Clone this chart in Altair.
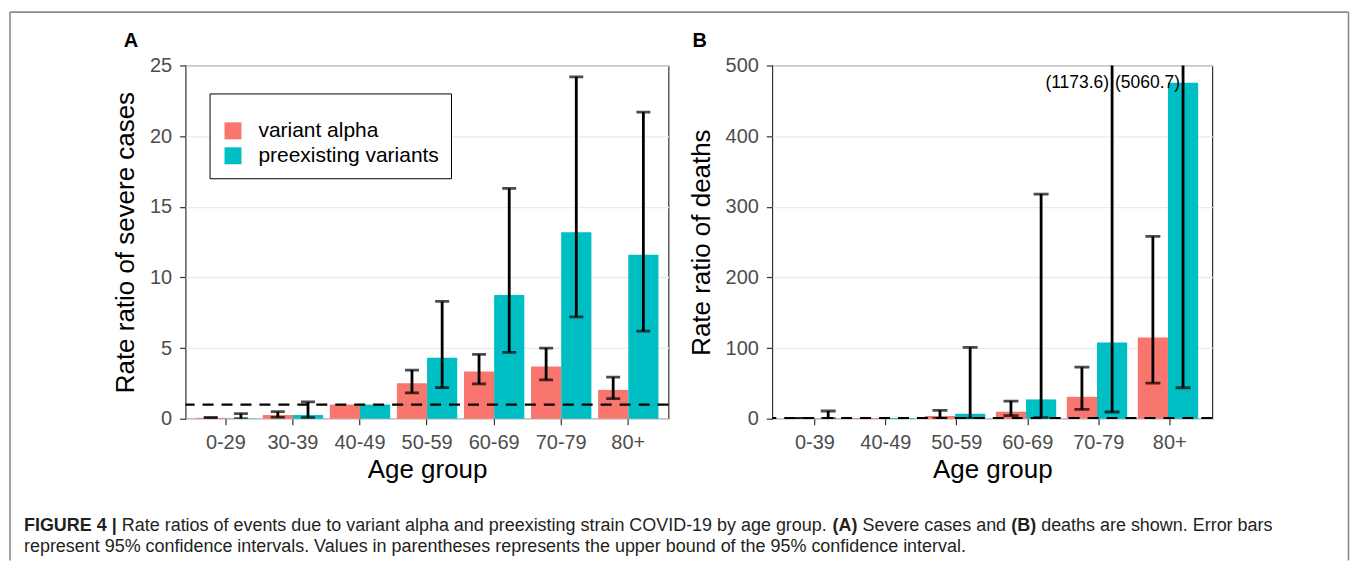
import altair as alt
import pandas as pd

variants = ["variant alpha", "preexisting variants"]
colors = ["#F8766D", "#00BFC4"]

# Panel A: severe cases
ages_a = ["0-29", "30-39", "40-49", "50-59", "60-69", "70-79", "80+"]
alpha_a = [0.06, 0.26, 1.0, 2.51, 3.34, 3.69, 2.04]
alpha_a_lo = [0.03, 0.10, None, 1.83, 2.46, 2.75, 1.42]
alpha_a_hi = [0.09, 0.50, None, 3.44, 4.55, 5.00, 2.94]
pre_a = [0.02, 0.26, 1.0, 4.31, 8.75, 13.2, 11.6]
pre_a_lo = [0.0, 0.08, None, 2.20, 4.69, 7.20, 6.20]
pre_a_hi = [0.36, 1.19, None, 8.30, 16.3, 24.2, 21.7]
ticks_a = [0, 5, 10, 15, 20, 25]

# Panel B: deaths
ages_b = ["0-39", "40-49", "50-59", "60-69", "70-79", "80+"]
alpha_b = [0.2, 1.0, 3.8, 9.9, 31.0, 115.0]
alpha_b_lo = [0.05, None, 0.5, 4.3, 13.2, 50.4]
alpha_b_hi = [0.5, None, 11.8, 25.0, 73.0, 258.0]
pre_b = [0.3, 1.0, 7.0, 27.3, 108.0, 475.6]
pre_b_lo = [0.0, None, 0.3, 1.4, 9.5, 43.8]
pre_b_hi = [10.9, None, 101.0, 318.0, 1173.6, 5060.7]
ticks_b = [0, 100, 200, 300, 400, 500]

caption_line1 = [
    ("FIGURE 4 |", True),
    ("Rate ratios of events due to variant alpha and preexisting strain COVID-19 by age group.", False),
    ("(A)", True),
    ("Severe cases and", False),
    ("(B)", True),
    ("deaths are shown. Error bars", False),
]
caption_line2 = [
    ("represent 95% confidence intervals. Values in parentheses represents the upper bound of the 95% confidence interval.", False),
]

FONT = "Liberation Sans"
CAP_SIZE = 18
CAP_X = 22
OX, OY = 184, 64  # origin of panel A plot area on the page

# Arial/Liberation Sans advance widths (per 1000 em), used to chain caption segments
_REG = {" ": 278, "%": 889, "(": 333, ")": 333, "-": 333, ".": 278, "|": 260}
_REG.update({d: 556 for d in "0123456789"})
_REG.update(dict(zip("ABCDEFGHIJKLMNOPQRSTUVWXYZ",
                     [667, 667, 722, 722, 667, 611, 778, 722, 278, 500, 667, 556, 833, 722, 778, 667,
                      778, 722, 667, 611, 722, 667, 944, 667, 667, 611])))
_REG.update(dict(zip("abcdefghijklmnopqrstuvwxyz",
                     [556, 556, 500, 556, 556, 278, 556, 556, 222, 222, 500, 222, 833, 556, 556, 556,
                      556, 333, 500, 278, 556, 500, 722, 500, 500, 500])))
_BOLD = {" ": 278, "(": 333, ")": 333, "|": 280, "4": 556, "A": 722, "B": 722, "E": 667, "F": 611,
         "G": 778, "I": 278, "R": 722, "U": 722}


def text_width(s, bold):
    tab = _BOLD if bold else _REG
    return sum(tab.get(c, 556) for c in s) / 1000.0 * CAP_SIZE


def make_df(ages, a, alo, ahi, p, plo, phi):
    rows = []
    for i, g in enumerate(ages):
        rows.append(dict(age=g, variant=variants[0], value=a[i], lo=alo[i], hi=ahi[i]))
        rows.append(dict(age=g, variant=variants[1], value=p[i], lo=plo[i], hi=phi[i]))
    return pd.DataFrame(rows)


one = pd.DataFrame({"k": [0]})


def panel(df, ages, ymax, yticks, ytitle, width, legend_x, lab_size, sym, cap, tag, tag_x, annotate):
    yscale = alt.Scale(domain=[0, ymax], nice=False, zero=True)
    yaxis = alt.Axis(title=ytitle, values=yticks)
    x = alt.X("age:N", sort=ages,
              scale=alt.Scale(domain=ages, paddingInner=0.1, paddingOuter=0.15),
              axis=alt.Axis(title="Age group", labelAngle=0))
    xo = alt.XOffset("variant:N", sort=variants,
                     scale=alt.Scale(domain=variants, paddingInner=0, paddingOuter=0))
    bars = alt.Chart(df).mark_bar().encode(
        x=x, xOffset=xo,
        y=alt.Y("value:Q", scale=yscale, axis=yaxis),
        color=alt.Color("variant:N",
                        scale=alt.Scale(domain=variants, range=colors),
                        legend=alt.Legend(title=" ", orient="none", legendX=legend_x, legendY=28,
                                          strokeColor="black", fillColor="white", padding=12,
                                          titleFontSize=10, titlePadding=5,
                                          symbolType="square", symbolSize=sym * sym,
                                          symbolStrokeWidth=0, symbolOffset=1,
                                          labelFontSize=lab_size, labelColor="black",
                                          labelFont=FONT, labelOffset=15, rowPadding=3,
                                          labelLimit=500)),
    )
    hline = alt.Chart(one).mark_rule(color="black", strokeWidth=2.2, strokeDash=[11, 8]).encode(
        y=alt.YDatum(1, scale=yscale, axis=yaxis)
    )
    err = alt.Chart(df).transform_filter("isValid(datum.lo)")
    rules = err.mark_rule(color="black", strokeWidth=2.8, clip=True).encode(
        x=x, xOffset=xo, y=alt.Y("lo:Q", scale=yscale, axis=yaxis), y2="hi:Q")
    cap_hi = err.mark_tick(color="black", thickness=2.8, size=cap, clip=True).encode(
        x=x, xOffset=xo, y=alt.Y("hi:Q", scale=yscale, axis=yaxis))
    cap_lo = err.mark_tick(color="black", thickness=2.8, size=cap, clip=True).encode(
        x=x, xOffset=xo, y=alt.Y("lo:Q", scale=yscale, axis=yaxis))
    tagm = alt.Chart(one).mark_text(text=tag, align="left", baseline="alphabetic", fontSize=20,
                                    fontWeight="bold", font=FONT, color="black").encode(
        x=alt.value(tag_x), y=alt.value(-19))
    layers = [bars, hline, rules, cap_hi, cap_lo, tagm]
    if annotate:
        txt = alt.Chart(df).transform_filter(f"datum.hi > {ymax}").transform_calculate(
            lab="'(' + format(datum.hi, '.1f') + ')'"
        ).mark_text(align="right", baseline="middle", dx=-3, fontSize=17.5, font=FONT,
                    color="black").encode(
            x=x, xOffset=xo, y=alt.YDatum(475, scale=yscale, axis=yaxis), text="lab:N")
        layers.append(txt)
    return alt.layer(*layers).properties(width=width, height=354)


df_a = make_df(ages_a, alpha_a, alpha_a_lo, alpha_a_hi, pre_a, pre_a_lo, pre_a_hi)
df_b = make_df(ages_b, alpha_b, alpha_b_lo, alpha_b_hi, pre_b, pre_b_lo, pre_b_hi)

pa = panel(df_a, ages_a, 25, ticks_a, "Rate ratio of severe cases", 484, 24, 21, 17, 14, "A", -62, False)
pb = panel(df_b, ages_b, 500, ticks_b, "Rate ratio of deaths", 441, 20, 19.5, 16, 15, "B", -80, True)

# figure frame (top, left, right) and caption, drawn in panel A's coordinate frame
fc = "#8a8a8a"
frame_top = alt.Chart(one).mark_rule(color=fc, strokeWidth=1.6).encode(
    x=alt.value(8 - OX), x2=alt.value(1349.5 - OX), y=alt.value(10.5 - OY))
frame_left = alt.Chart(one).mark_rule(color=fc, strokeWidth=1.6).encode(
    x=alt.value(8 - OX), y=alt.value(10.5 - OY), y2=alt.value(560 - OY))
frame_right = alt.Chart(one).mark_rule(color=fc, strokeWidth=1.6).encode(
    x=alt.value(1349.5 - OX), y=alt.value(10.5 - OY), y2=alt.value(560 - OY))

cap_layers = []
for parts, base_y in ((caption_line1, 530.5), (caption_line2, 551.5)):
    px = float(CAP_X)
    for text, bold in parts:
        cap_layers.append(
            alt.Chart(one).mark_text(text=text, align="left", baseline="alphabetic",
                                     fontSize=CAP_SIZE, font=FONT,
                                     fontWeight="bold" if bold else "normal",
                                     color="#231F20").encode(
                x=alt.value(px - OX), y=alt.value(base_y - OY))
        )
        px += text_width(text + " ", bold)

pa_full = alt.layer(pa, frame_top, frame_left, frame_right, *cap_layers)

chart = alt.hconcat(pa_full, pb, spacing=104, bounds="flush").properties(
    padding={"left": 0, "top": 2, "right": 0, "bottom": 0}
).configure(font=FONT).configure_view(
    stroke="#333333", strokeWidth=1.2
).configure_axis(
    labelFont=FONT, labelFontSize=20, labelColor="#4D4D4D", tickColor="#333333", tickSize=6,
    tickWidth=1.2, domain=False, gridColor="#EBEBEB", gridWidth=1.3, titleFont=FONT,
    titleFontSize=26, titleFontWeight="normal", titleColor="black"
).configure_axisY(labelPadding=8, titlePadding=11).configure_axisX(labelPadding=8, titlePadding=4)

chart.save("out.html", embed_options={"renderer": "svg", "actions": False})
